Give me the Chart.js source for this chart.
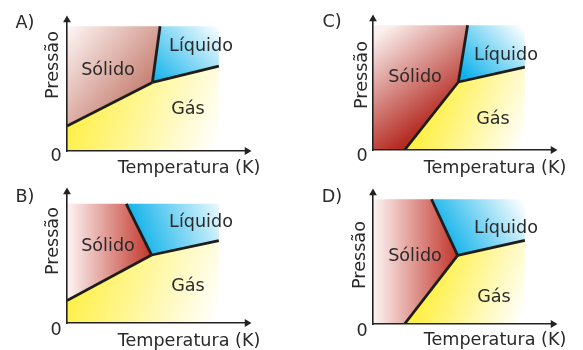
<!DOCTYPE html>
<html>
<head>
<meta charset="utf-8">
<script src="https://cdn.jsdelivr.net/npm/chart.js@4.4.1/dist/chart.umd.min.js"></script>
<style>
  body { margin: 0; background: #fff; }
  #page { position: relative; width: 583px; height: 350px; overflow: hidden;
          font-family: "DejaVu Sans", Verdana, sans-serif; font-size: 17.6px; color: #2a2a2a; }
  .panel { position: absolute; }
  .txt { position: absolute; white-space: nowrap; line-height: 1; transform: translate(-50%, -50%); }
  .rot { transform: translate(-50%, -50%) rotate(-90deg); }
</style>
</head>
<body>
<div id="page"></div>
<script>
// labels
const panelLetters = ['A)', 'B)', 'C)', 'D)'];
const regionNames = ['Sólido', 'Líquido', 'Gás'];
const xAxisTitle = 'Temperatura (K)';
const yAxisTitle = 'Pressão';
const originTick = '0';

// key points of each diagram as [temperature, pressure], arbitrary units
const triplePoint = [[5.55, 5.5], [5.5, 5.45], [5.55, 5.45], [5.5, 5.5]];
const sublimationStart = [[0, 2.0], [0, 1.8], [2.05, 0], [2.05, 0]];
const fusionEnd = [[6.05, 10], [3.85, 9.55], [6.15, 10], [3.8, 10]];
const vaporizationEnd = [[9.87, 6.8], [9.87, 6.6], [9.87, 6.65], [9.87, 6.7]];
const topPressure = [10, 9.55, 10, 10];
const rightTemperature = [9.87, 9.87, 9.87, 9.87];
const axisMax = [11.7, 10.5];

// where each panel sits on the page (origin = axes corner)
const boxes = [
  { left: 0,   top: 0,   w: 290, h: 175, ox: 67,  oy: 151 },
  { left: 0,   top: 175, w: 290, h: 175, ox: 67,  oy: 323 },
  { left: 290, top: 0,   w: 293, h: 175, ox: 373, oy: 150 },
  { left: 290, top: 175, w: 293, h: 175, ox: 373, oy: 324 },
];
const AREA_W = 180, AREA_H = 131;

// text centres, page pixels
const textPos = [
  { letter: [25, 23],  y: [53, 65],  zero: [56, 156], x: [189, 168], s: [108, 70],  l: [201, 46],  g: [188, 109] },
  { letter: [25, 197], y: [53, 241], zero: [56, 330], x: [189, 341], s: [108, 246], l: [201, 222], g: [188, 286] },
  { letter: [332, 22], y: [362, 75], zero: [362, 156], x: [495, 168], s: [415, 77], l: [506, 55],  g: [493, 119] },
  { letter: [332, 197], y: [360, 255], zero: [362, 331], x: [495, 340], s: [415, 256], l: [506, 228], g: [494, 297] },
];

// colour ramps for the three regions of each panel (data coords)
const RED = '#c1352a', CYAN = '#10b2ea', YELLOW = '#fff048';
const shading = [
  { s: { from: [0.3, 10], to: [5.5, 4.8], c0: '#fcf3f1', c1: '#c47a6c' },
    l: { from: [5.6, 5.6], to: [9.6, 10.4], c0: CYAN, c1: '#ffffff' },
    g: { from: [0.5, 3.5], to: [9.5, -0.5], c0: YELLOW, c1: '#ffffff' } },
  { s: { from: [0, 7], to: [5.5, 7], c0: '#fdf6f5', c1: RED },
    l: { from: [4.5, 7], to: [10.4, 9.8], c0: CYAN, c1: '#ffffff' },
    g: { from: [0.5, 3.5], to: [9.5, -0.5], c0: YELLOW, c1: '#ffffff' } },
  { s: { from: [0.5, 9.5], to: [4.5, 3], c0: '#fbf0ee', c1: '#b52e25' },
    l: { from: [5.8, 6.2], to: [9.3, 10.4], c0: CYAN, c1: '#ffffff' },
    g: { from: [4, 4], to: [9.9, 1], c0: YELLOW, c1: '#ffffff' } },
  { s: { from: [0, 5], to: [5.5, 5], c0: '#fdf5f4', c1: RED },
    l: { from: [4.6, 6.8], to: [9.5, 10.4], c0: CYAN, c1: '#ffffff' },
    g: { from: [4, 4], to: [9.9, 1], c0: YELLOW, c1: '#ffffff' } },
];

const pts = (arr) => arr.map(([x, y]) => ({ x, y }));

// path that starts at the leftmost vertex and ends at the rightmost one
// (closed by the fill); the polygons are convex so the overlap is harmless
function shapePath(poly) {
  const xs = poly.map(p => p[0]);
  const lo = xs.indexOf(Math.min(...xs));
  const hi = xs.indexOf(Math.max(...xs));
  const n = poly.length;
  const path = [];
  for (let k = 0; k <= n; k++) path.push(poly[(lo + k) % n]);
  let k = lo;
  while (k % n !== hi) { k++; path.push(poly[k % n]); }
  return pts(path);
}

function ramp(chart, g) {
  const { x, y } = chart.scales;
  if (!chart.chartArea || !x || !y) return g.c1;
  const grd = chart.ctx.createLinearGradient(
    x.getPixelForValue(g.from[0]), y.getPixelForValue(g.from[1]),
    x.getPixelForValue(g.to[0]), y.getPixelForValue(g.to[1]));
  grd.addColorStop(0, g.c0);
  grd.addColorStop(1, g.c1);
  return grd;
}

const page = document.getElementById('page');

function addText(str, pos, rotate) {
  const d = document.createElement('div');
  d.className = rotate ? 'txt rot' : 'txt';
  d.style.left = pos[0] + 'px';
  d.style.top = pos[1] + 'px';
  d.textContent = str;
  page.appendChild(d);
}

boxes.forEach((b, i) => {
  const P = triplePoint[i], S = sublimationStart[i], F = fusionEnd[i], V = vaporizationEnd[i];
  const top = topPressure[i], R = rightTemperature[i];

  const solid = S[1] === 0 ? [[0, top], [0, 0], S, P, F] : [[0, top], S, P, F];
  const liquid = [P, F, [R, top], V];
  const gas = S[0] === 0 ? [S, P, V, [R, 0], [0, 0]] : [S, P, V, [R, 0]];

  const wrap = document.createElement('div');
  wrap.className = 'panel';
  wrap.style.left = b.left + 'px';
  wrap.style.top = b.top + 'px';
  const cv = document.createElement('canvas');
  cv.width = b.w; cv.height = b.h;
  wrap.appendChild(cv);
  page.appendChild(wrap);

  const padLeft = b.ox - b.left;
  const padTop = b.oy - AREA_H - b.top;
  const sh = shading[i];

  const region = (poly, g) => ({
    data: shapePath(poly),
    borderWidth: 0,
    pointRadius: 0,
    tension: 0,
    fill: 'shape',
    backgroundColor: (c) => ramp(c.chart, g),
    order: 3,
  });
  const boundary = (a, c) => ({
    data: pts([a, c]),
    borderColor: '#1d1d1d',
    borderWidth: 2.8,
    pointRadius: 0,
    fill: false,
    order: 2,
  });

  new Chart(cv, {
    type: 'line',
    data: {
      datasets: [
        region(solid, sh.s),
        region(liquid, sh.l),
        region(gas, sh.g),
        boundary(S, P),
        boundary(P, F),
        boundary(P, V),
        {
          data: pts([[0, axisMax[1]], [axisMax[0], 0]]),
          showLine: false,
          pointStyle: 'triangle',
          pointRadius: 4.5,
          pointRotation: [0, 90],
          pointBackgroundColor: '#222',
          pointBorderWidth: 0,
          clip: false,
          order: 1,
        },
      ],
    },
    options: {
      responsive: false,
      animation: false,
      devicePixelRatio: 1,
      events: [],
      layout: {
        autoPadding: false,
        padding: { left: padLeft, top: padTop, right: b.w - padLeft - AREA_W, bottom: b.h - padTop - AREA_H },
      },
      plugins: { legend: { display: false }, tooltip: { enabled: false } },
      scales: {
        x: {
          type: 'linear', min: 0, max: axisMax[0],
          grid: { display: false, drawTicks: false },
          ticks: { display: false },
          border: { display: true, color: '#222', width: 1.6, z: 1 },
          afterFit: (s) => { s.height = 0; },
        },
        y: {
          type: 'linear', min: 0, max: axisMax[1],
          grid: { display: false, drawTicks: false },
          ticks: { display: false },
          border: { display: true, color: '#222', width: 1.6, z: 1 },
          afterFit: (s) => { s.width = 0; },
        },
      },
    },
  });

  const t = textPos[i];
  addText(panelLetters[i], t.letter);
  addText(yAxisTitle, t.y, true);
  addText(originTick, t.zero);
  addText(xAxisTitle, t.x);
  addText(regionNames[0], t.s);
  addText(regionNames[1], t.l);
  addText(regionNames[2], t.g);
});
</script>
</body>
</html>
